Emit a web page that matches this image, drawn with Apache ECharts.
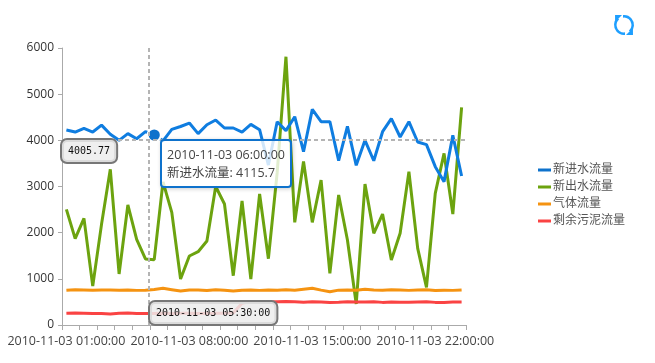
<!DOCTYPE html>
<html>
<head>
<meta charset="utf-8">
<title>流量</title>
<style>
  html, body { margin: 0; padding: 0; background: #fff; }
  #chart { width: 655px; height: 363px; }
</style>
<script src="https://cdn.jsdelivr.net/npm/echarts@6/dist/echarts.min.js"></script>
</head>
<body>
<div id="chart"></div>
<script>
const times = [
  "01:00:00", "01:30:00", "02:00:00", "02:30:00", "03:00:00", "03:30:00", "04:00:00", "04:30:00",
  "05:00:00", "05:30:00", "06:00:00", "06:30:00", "07:00:00", "07:30:00", "08:00:00", "08:30:00",
  "09:00:00", "09:30:00", "10:00:00", "10:30:00", "11:00:00", "11:30:00", "12:00:00", "12:30:00",
  "13:00:00", "13:30:00", "14:00:00", "14:30:00", "15:00:00", "15:30:00", "16:00:00", "16:30:00",
  "17:00:00", "17:30:00", "18:00:00", "18:30:00", "19:00:00", "19:30:00", "20:00:00", "20:30:00",
  "21:00:00", "21:30:00", "22:00:00", "22:30:00", "23:00:00", "23:30:00"
];
const categories = times.map((t) => "2010-11-03 " + t);

const inflow = [
  4224, 4180, 4260, 4180, 4330, 4130, 4000, 4145, 4035, 4187, 4115.7, 3990, 4236, 4300, 4375, 4145,
  4338, 4440, 4267, 4267, 4180, 4346, 4230, 3465, 4404, 4210, 4512, 3754, 4670, 4404, 4404, 3560,
  4303, 3458, 4000, 3558, 4187, 4470, 4072, 4404, 3964, 3906, 3430, 3105, 4108, 3227
];
const outflow = [
  2505, 1870, 2310, 845, 2180, 3372, 1105, 2600, 1856, 1430, 1415, 3100, 2440, 996, 1495, 1588,
  1820, 3000, 2620, 1068, 2686, 996, 2837, 1436, 3300, 5811, 2224, 3540, 2224, 3140, 1120, 2816,
  1841, 455, 3054, 1986, 2404, 1408, 1986, 3320, 1660, 816, 2852, 3718, 2404, 4715
];
const gasflow = [
  755, 765, 760, 755, 760, 758, 755, 760, 750, 755, 770, 795, 765, 735, 760, 760,
  745, 765, 755, 735, 755, 760, 750, 760, 755, 765, 755, 775, 795, 755, 720, 755,
  760, 755, 775, 760, 755, 765, 760, 750, 760, 765, 745, 755, 750, 760
];
const sludge = [
  255, 258, 255, 250, 248, 240, 252, 258, 250, 248, 250, 255, 250, 252, 255, 250,
  248, 252, 255, 262, 470, 510, 505, 500, 505, 510, 505, 495, 505, 500, 490, 495,
  505, 500, 500, 505, 490, 500, 495, 495, 500, 505, 490, 490, 500, 500
];

const seriesNames = ["新进水流量", "新出水流量", "气体流量", "剩余污泥流量"];
const colors = ["#0e72cc", "#6ca30f", "#f59311", "#fa4343"];
const yTicks = { min: 0, max: 6000, interval: 1000 };

// hover state frozen from the picture
const hoverIndex = 10;
const crossX = 9.93; // in category bands from the left edge, the mouse was between two points
const crossY = 4005.77;
const crossXLabel = "2010-11-03 05:30:00";

const FONT = '"Open Sans", "Noto Sans CJK SC", sans-serif';
const RESTORE_ICON =
  "path://M3.4 2.5A10 10 0 0 0 11 20L11 17.4A7.5 7.5 0 0 1 5 4.4Z" +
  "M1 0L1 7L8 0Z" +
  "M16.6 17.5A10 10 0 0 0 9 0L9 2.6A7.5 7.5 0 0 1 15 15.6Z" +
  "M19 20L19 13L12 20Z";

const chart = echarts.init(document.getElementById("chart"), null, { renderer: "canvas" });

function pointer(value) {
  return {
    show: true,
    status: "show",
    value: value,
    snap: false,
    triggerTooltip: false,
    lineStyle: { color: "#b4b4b4", width: 2, type: [4, 3] },
    label: { show: false },
  };
}

function pointerLabel(x, y, text) {
  return {
    type: "text",
    silent: true,
    z: 100,
    x: x,
    y: y,
    style: {
      text: text,
      font: '10px "DejaVu Sans Mono", monospace',
      fill: "#111",
      backgroundColor: "rgba(236,236,236,0.85)",
      borderColor: "#777",
      borderWidth: 2,
      borderRadius: 5,
      padding: [6, 6, 6, 6],
    },
  };
}

chart.setOption({
  animation: false,
  color: colors,
  textStyle: { fontFamily: FONT },
  grid: { left: 62, right: 189, top: 48, bottom: 38, containLabel: false },
  toolbox: {
    right: 21,
    top: 15,
    padding: 0,
    itemSize: 20,
    showTitle: false,
    iconStyle: { color: "#1e9fff", borderWidth: 0 },
    feature: { restore: { icon: RESTORE_ICON } },
  },
  legend: {
    orient: "vertical",
    left: 538,
    top: 163,
    padding: 0,
    itemGap: 3,
    itemWidth: 13,
    itemHeight: 3,
    icon: "rect",
    itemStyle: { borderWidth: 0 },
    data: seriesNames,
    textStyle: { color: "#555", fontSize: 12, padding: [0, 0, 0, -3], lineHeight: 14, height: 14, fontFamily: FONT },
  },
  tooltip: {
    trigger: "item",
    alwaysShowContent: true,
    transitionDuration: 0,
    position: [160, 139],
    padding: [5, 5],
    backgroundColor: "rgba(255,255,255,0.8)",
    borderColor: colors[0],
    borderWidth: 2,
    textStyle: { color: "#444", fontSize: 12.5, fontFamily: FONT },
    extraCssText: "border-radius:4px;box-shadow:1px 1px 4px rgba(0,0,0,0.2);line-height:17.5px;box-sizing:border-box;",
    formatter: (p) => p.name + "<br/>" + p.seriesName + ": " + p.value,
  },
  xAxis: [
    {
      type: "category",
      data: categories,
      boundaryGap: true,
      axisLine: { lineStyle: { color: "#aaa", width: 1 } },
      axisTick: { show: true, interval: 1, length: 5, alignWithLabel: false, lineStyle: { color: "#aaa" } },
      axisLabel: { interval: 13, color: "#444", fontSize: 12.5, margin: 10, hideOverlap: false, showMinLabel: true },
    },
    {
      // the category axis rounds its pointer to a band, this one only carries the vertical crosshair
      type: "value",
      min: 0,
      max: categories.length,
      position: "bottom",
      axisLine: { show: false },
      axisTick: { show: false },
      axisLabel: { show: false },
      splitLine: { show: false },
      axisPointer: pointer(crossX),
    },
  ],
  yAxis: {
    type: "value",
    min: yTicks.min,
    max: yTicks.max,
    interval: yTicks.interval,
    axisLine: { show: true, lineStyle: { color: "#aaa", width: 1 } },
    axisTick: { show: true, length: 4, lineStyle: { color: "#aaa" } },
    splitLine: { show: false },
    axisLabel: { color: "#333", fontSize: 12, margin: 8, formatter: (v) => String(v) },
    axisPointer: pointer(crossY),
  },
  series: [inflow, outflow, gasflow, sludge].map((values, i) => ({
    name: seriesNames[i],
    type: "line",
    data: values,
    showSymbol: false,
    symbol: "circle",
    symbolSize: 12,
    smooth: false,
    lineStyle: { width: 3 },
    itemStyle: { borderColor: "#fff", borderWidth: 2 },
    emphasis: { scale: 1.1, focus: "none" },
  })),
  graphic: [
    pointerLabel(62, 140, String(crossY)),
    pointerLabel(150, 302, crossXLabel),
  ],
});

chart.dispatchAction({ type: "highlight", seriesIndex: 0, dataIndex: hoverIndex });
chart.dispatchAction({ type: "showTip", seriesIndex: 0, dataIndex: hoverIndex });
</script>
</body>
</html>
